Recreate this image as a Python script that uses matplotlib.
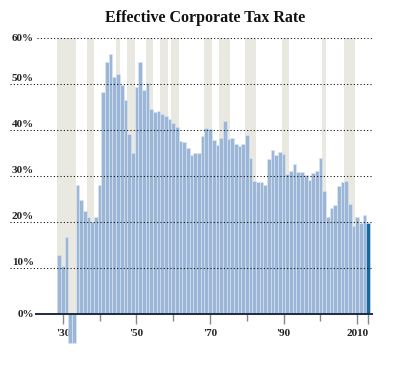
import matplotlib
matplotlib.use("Agg")
import matplotlib.pyplot as plt
import matplotlib.transforms as mtransforms

years = list(range(1929, 2014))
rates = [
    12.9, 10.6, 16.7, -6.2, -6.2, 28.0, 24.8, 22.5, 21.1, 20.0,   # 1929-1938
    21.1, 28.1, 48.4, 54.8, 56.6, 51.5, 52.2, 49.8, 46.6, 39.3,   # 1939-1948
    35.0, 49.5, 54.8, 48.8, 50.3, 44.6, 43.9, 44.2, 43.5, 43.2,   # 1949-1958
    42.5, 41.6, 40.8, 37.7, 37.4, 36.2, 34.7, 35.1, 35.0, 38.8,   # 1959-1968
    40.5, 40.2, 37.9, 36.8, 38.4, 42.0, 38.2, 38.3, 37.0, 36.6,   # 1969-1978
    37.1, 39.0, 34.0, 28.9, 28.8, 28.8, 28.1, 33.8, 35.7, 34.6,   # 1979-1988
    35.2, 34.8, 30.6, 31.2, 32.7, 31.0, 30.9, 30.3, 29.2, 30.8,   # 1989-1998
    31.2, 33.9, 26.9, 21.1, 23.0, 23.8, 27.9, 28.7, 29.0, 24.0,   # 1999-2008
    19.3, 21.2, 19.9, 21.6, 19.9,                                 # 2009-2013
]
recessions = [(1929, 1933), (1937, 1938), (1945, 1945), (1948, 1949),
              (1953, 1954), (1957, 1958), (1960, 1961), (1969, 1970),
              (1973, 1975), (1980, 1982), (1990, 1991), (2001, 2001),
              (2007, 2009)]
y_ticks = [0, 10, 20, 30, 40, 50, 60]
y_labels = ["0%", "10%", "20%", "30%", "40%", "50%", "60%"]
x_major = [1930, 1950, 1970, 1990, 2010, 2013]
x_major_labels = ["'30", "'50", "'70", "'90", "2010", ""]
x_minor = [1940, 1960, 1980, 2000]
title = "Effective Corporate Tax Rate"

SERIF = ["Liberation Serif", "DejaVu Serif"]
BAR = "#9bb6d7"
BAR_LAST = "#1668a0"
BAND = "#e9e9e2"

fig = plt.figure(figsize=(4.0, 3.75), dpi=100)
ax = fig.add_axes([0.1, 0.1619, 0.8325, 0.736])
ax.set_xlim(1923.8, 2014.3)
ax.set_ylim(0, 60)

for a, b in recessions:
    ax.axvspan(a - 0.5, b + 0.5, color=BAND, lw=0, zorder=0)

colors = [BAR] * (len(years) - 1) + [BAR_LAST]
ax.bar(years, rates, width=1.0, color=colors, edgecolor="#dde7f2",
       linewidth=0.4, zorder=2, clip_on=False)

trans = mtransforms.blended_transform_factory(ax.transAxes, ax.transData)
for v in y_ticks[1:]:
    x0 = -0.09 if v < 60 else -0.01
    ax.plot([x0, 1.0], [v, v], transform=trans, color="black", lw=0.75,
            linestyle=(0, (1, 2.2)), zorder=4, clip_on=False)
ax.plot([-0.015, 1.0], [0, 0], transform=trans, color="#1d2b45", lw=1.4,
        zorder=5, clip_on=False, solid_capstyle="butt")

for v, lab in zip(y_ticks, y_labels):
    dy = 0 if v in (0, 60) else 1.3
    ax.text(-0.018, v + dy, lab, transform=trans, ha="right", va="center",
            fontsize=8, fontweight="bold", family=SERIF, color="#222222")

for s in ax.spines.values():
    s.set_visible(False)
ax.set_yticks([])
ax.set_xticks(x_major)
ax.set_xticklabels(x_major_labels, fontsize=8, fontweight="bold", family=SERIF)
ax.set_xticks(x_minor, minor=True)
ax.tick_params(axis="x", which="major", length=7.5, width=1, color="#888888",
               pad=3, labelcolor="#222222")
ax.tick_params(axis="x", which="minor", length=5, width=1, color="#888888")

fig.text(0.5125, 0.952, title, ha="center", va="center", fontsize=11.5,
         fontweight="bold", family=SERIF, color="#111111")

fig.savefig("out.png", dpi=100)
